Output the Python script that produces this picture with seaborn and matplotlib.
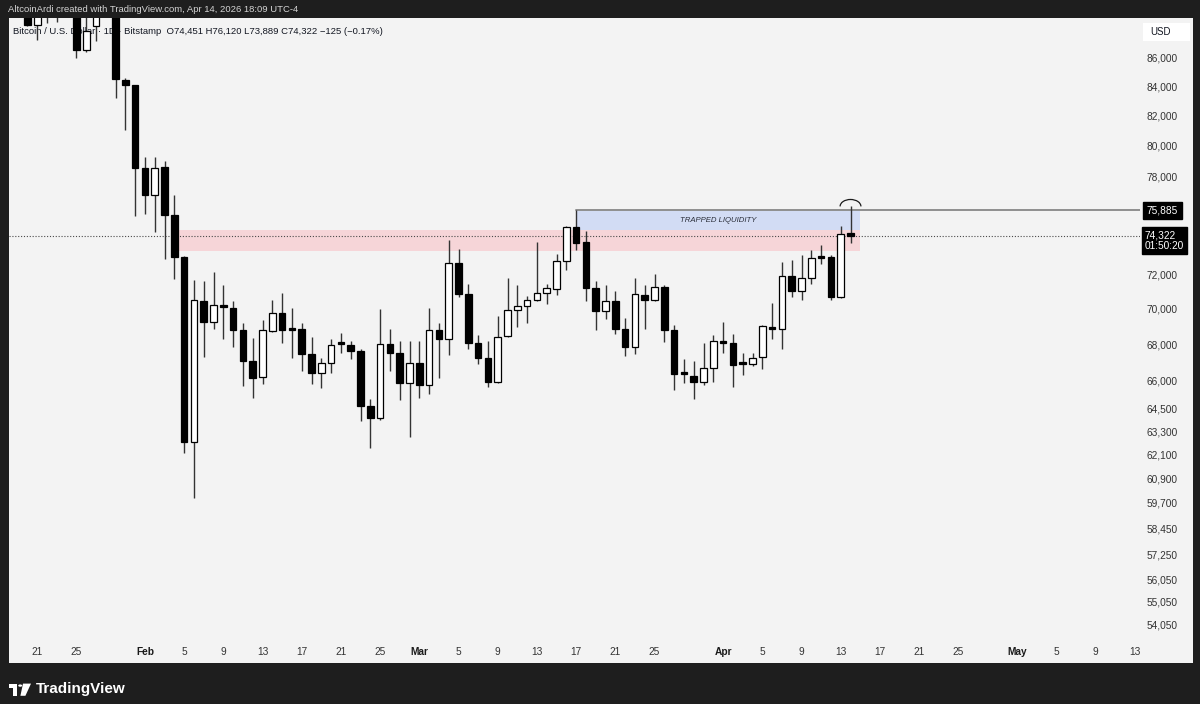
import matplotlib
matplotlib.use("Agg")
import numpy as np
import pandas as pd
import seaborn as sns
import matplotlib.pyplot as plt
import matplotlib.dates as mdates
import matplotlib.transforms as mtransforms
from matplotlib.patches import Rectangle, Arc, Circle, Polygon
from matplotlib.ticker import FixedLocator, NullLocator, FuncFormatter

# ---------------- data (BTC/USD daily, Bitstamp) ----------------
start_date = "2026-01-19"
opens = [91000, 89600, 88320, 89300, 89500, 89200, 89400, 86510, 88250, 89100, 89400, 84420, 84080,
         78575, 76860, 78600, 75595, 73000, 62735, 70460, 69220, 70230, 70040, 68770, 67045, 66185, 68750,
         69760, 68870, 68870, 67470, 66380, 66940, 68020, 67930, 67620, 64620, 64000, 67980, 67480, 65840,
         66960, 65750, 68780, 68300, 72690, 70840, 68080, 67250, 65930, 68440, 69930, 70130, 70500, 70880,
         71160, 72820, 74850, 73920, 71200, 69890, 70460, 68860, 67830, 70800, 70480, 71260, 68770, 66360,
         66250, 65930, 66690,
         68170, 68080, 66890, 66920, 67280, 68970, 68860, 71900, 71050, 71800, 73030, 73030, 70670, 74451]
highs = [92000, 90100, 89800, 89900, 90000, 89700, 89600, 89000, 89300, 90000, 89600, 84570, 84100,
         79285, 79285, 79030, 76860, 73100, 71665, 71610, 72135, 71360, 70420, 69200, 68355, 69350, 70480,
         70900, 70040, 69200, 68410, 67250, 68300, 68630, 68170, 67710, 65000, 69980, 68820, 68170, 68170,
         68170, 70040, 69200, 74060, 73520, 71420, 68480, 68170, 69560, 71770, 71360, 70750, 73950, 71420,
         73190, 74930, 75885, 74625, 71610, 71360, 71050, 69490, 71810, 71360, 72000, 71360, 69090, 67190,
         67060, 68080, 68500,
         69230, 68590, 67480, 67480, 69090, 70330, 72730, 72850, 73130, 73470, 73780, 73130, 74890, 76120]
lows = [89400, 88250, 87220, 88470, 88540, 88950, 86000, 86370, 87150, 88950, 83200, 81050, 75530,
        75655, 74565, 72890, 71710, 62190, 59945, 67300, 68820, 68260, 67855, 65730, 65075, 65820, 68690,
        68040, 67250, 66500, 65820, 65600, 66420, 67520, 67160, 63820, 62470, 63910, 66500, 64960, 63010,
        65075, 65250, 66150, 67370, 70670, 67740, 66920, 65640, 65840, 68410, 68960, 69200, 70420, 70280,
        70800, 72250, 73440, 70460, 68780, 69390, 68540, 67330, 67430, 68860, 70420, 68110, 65470, 65875,
        65000, 65780, 65900,
        67520, 65660, 66280, 66810, 66600, 68300, 67700, 70670, 70480, 71420, 72600, 70500, 70610, 73889]
closes = [89600, 88320, 89300, 89500, 89200, 89400, 86510, 87920, 89100, 89400, 84500, 84080, 78575,
          76860, 78575, 75595, 73000, 62735, 70476, 69220, 70230, 70080, 68770, 67045, 66150, 68780, 69760,
          68770, 68800, 67430, 66380, 66940, 67965, 68000, 67600, 64620, 64000, 67980, 67480, 65840, 66960,
          65750, 68780, 68310, 72690, 70840, 68080, 67250, 65930, 68410, 69940, 70130, 70480, 70900, 71200,
          72820, 74850, 73880, 71200, 69890, 70460, 68860, 67830, 70840, 70480, 71260, 68770, 66330, 66330,
          65930, 66690, 68170,
          68080, 66860, 66880, 67250, 69010, 68860, 71900, 71050, 71800, 72990, 72950, 70670, 74420, 74322]

ytick_values = [86000, 84000, 82000, 80000, 78000, 72000, 70000, 68000, 66000, 64500, 63300,
                62100, 60900, 59700, 58450, 57250, 56050, 55050, 54050]
xtick_dates = ["2026-01-21", "2026-01-25", "2026-02-01", "2026-02-05", "2026-02-09", "2026-02-13",
               "2026-02-17", "2026-02-21", "2026-02-25", "2026-03-01", "2026-03-05", "2026-03-09",
               "2026-03-13", "2026-03-17", "2026-03-21", "2026-03-25", "2026-04-01", "2026-04-05",
               "2026-04-09", "2026-04-13", "2026-04-17", "2026-04-21", "2026-04-25", "2026-05-01",
               "2026-05-05", "2026-05-09", "2026-05-13"]
xtick_labels = ["21", "25", "Feb", "5", "9", "13", "17", "21", "25", "Mar", "5", "9", "13", "17",
                "21", "25", "Apr", "5", "9", "13", "17", "21", "25", "May", "5", "9", "13"]
month_labels = {"Feb", "Mar", "Apr", "May"}

last_price = 74322
trapped_high = 75885
zone_split = 74640
zone_low = 73390
pink_start = "2026-02-04 08:00"
blue_start = "2026-03-17"
zone_end = "2026-04-14 23:00"
y_min, y_max = 52360, 88830
x_start, x_end = "2026-01-18 03:00", "2026-05-13 13:00"

title_text = "AltcoinArdi created with TradingView.com, Apr 14, 2026 18:09 UTC-4"
legend_text = "Bitcoin / U.S. Dollar · 1D · Bitstamp  O74,451 H76,120 L73,889 C74,322 \u2212125 (\u22120.17%)"

# ---------------- style ----------------
sns.set_theme(style="white")
plt.rcParams["font.family"] = ["Liberation Sans", "DejaVu Sans"]

W, H = 1200, 704
fig = plt.figure(figsize=(12, 7.04), dpi=100, facecolor="#1e1e1e")


def fx(px):
    return px / W


def fy(py):
    return 1 - py / H


def dn(s):
    return mdates.date2num(pd.Timestamp(s).to_pydatetime())


panel = Rectangle((fx(9), fy(663)), fx(1193) - fx(9), fy(18) - fy(663),
                  facecolor="#f3f3f3", edgecolor="none", zorder=-5)
fig.add_artist(panel)

ax = fig.add_axes([fx(9), fy(663), fx(1140) - fx(9), fy(18) - fy(663)])
ax.set_facecolor("none")
for s in ax.spines.values():
    s.set_visible(False)

dates = pd.date_range(start_date, periods=len(opens), freq="D")
x = mdates.date2num(dates.to_pydatetime())
o = np.array(opens, float)
h = np.array(highs, float)
l = np.array(lows, float)
c = np.array(closes, float)

# zones
ax.fill_between([dn(pink_start), dn(zone_end)], zone_low, zone_split, color="#f6d5d8", lw=0, zorder=1)
ax.fill_between([dn(blue_start), dn(zone_end)], zone_split, trapped_high, color="#d2dcf4", lw=0, zorder=1)

# level line and last-price line
sns.lineplot(x=[dn(blue_start), dn(x_end)], y=[trapped_high, trapped_high], ax=ax,
             color="#8f8f8f", linewidth=1.4, zorder=2)
ax.hlines(last_price, dn(x_start), dn(x_end), colors="#4a4a4a", linestyles=(0, (1, 1.6)),
          linewidth=0.8, zorder=2)

# candles
up = c >= o
ax.vlines(x, l, h, color="#333333", lw=1.0, zorder=3)
body_lo = np.minimum(o, c)
body_hi = np.maximum(o, c)
height = np.maximum(body_hi - body_lo, body_lo * 0.0016)
ax.bar(x, height, bottom=body_lo, width=0.68, color=np.where(up, "white", "black"),
       edgecolor="black", linewidth=0.9, zorder=4)

# label in trapped zone
ax.text((dn(blue_start) + dn(zone_end)) / 2, np.sqrt(zone_split * trapped_high), "TRAPPED LIQUIDITY",
        ha="center", va="center", fontsize=5.6, style="italic", color="#2a2e39", zorder=5)

# arc above last candle
arc_tr = mtransforms.Affine2D().scale(fig.dpi / 72) + mtransforms.ScaledTranslation(x[-1], h[-1], ax.transData)
arc = Arc((0, 0), 15, 10, theta1=0, theta2=180, transform=arc_tr, color="#1b1b1b", lw=0.9, zorder=5)
ax.add_artist(arc)

# axes scales
ax.set_yscale("log")
ax.set_ylim(y_min, y_max)
ax.set_xlim(dn(x_start), dn(x_end))
ax.set_xlabel("")
ax.set_ylabel("")

ax.yaxis.tick_right()
ax.yaxis.set_major_locator(FixedLocator(ytick_values))
ax.yaxis.set_minor_locator(NullLocator())
ax.yaxis.set_major_formatter(FuncFormatter(lambda v, p: f"{v:,.0f}"))
ax.tick_params(axis="y", length=0, pad=5, labelsize=7.3, labelcolor="#333333")

ax.xaxis.set_major_locator(FixedLocator([dn(d) for d in xtick_dates]))
ax.xaxis.set_minor_locator(NullLocator())
ax.set_xticklabels(xtick_labels)
ax.tick_params(axis="x", length=0, pad=-11.5, labelsize=7.3, labelcolor="#333333")
for lbl in ax.get_xticklabels():
    if lbl.get_text() in month_labels:
        lbl.set_fontweight("bold")
        lbl.set_color("#1a1a1a")

# right-side price labels
ax.annotate(f"{trapped_high:,}", xy=(1, trapped_high), xycoords=("axes fraction", "data"),
            xytext=(5, 0), textcoords="offset points", ha="left", va="center", fontsize=7.3,
            color="white", bbox=dict(boxstyle="square,pad=0.35", fc="black", ec="black"),
            annotation_clip=False, zorder=6)
ax.annotate(f"{last_price:,}\n01:50:20", xy=(1, last_price), xycoords=("axes fraction", "data"),
            xytext=(3.5, -3.6), textcoords="offset points", ha="left", va="center", fontsize=7.3,
            color="white", linespacing=1.05,
            bbox=dict(boxstyle="square,pad=0.3", fc="black", ec="black"),
            annotation_clip=False, zorder=6)

# header texts
fig.text(fx(8), fy(10), title_text, color="#d4d4d4", fontsize=6.8, va="center", ha="left")
ax.text(fx(13), fy(31.5), legend_text, transform=fig.transFigure, color="#131722", fontsize=6.8,
        va="center", ha="left", zorder=2)

# USD box
fig.add_artist(Rectangle((fx(1143), fy(40.5)), fx(1190) - fx(1143), fy(23) - fy(40.5),
                         facecolor="white", edgecolor="none", zorder=3))
fig.text(fx(1150), fy(32), "USD", color="#131722", fontsize=7, va="center", ha="left", zorder=4)

# TradingView footer logo
fig.add_artist(Rectangle((fx(8.5), fy(687.5)), fx(17.2) - fx(8.5), fy(683.6) - fy(687.5),
                         facecolor="white", edgecolor="none"))
fig.add_artist(Rectangle((fx(13.4), fy(695.8)), fx(17.2) - fx(13.4), fy(683.6) - fy(695.8),
                         facecolor="white", edgecolor="none"))
fig.add_artist(Circle((fx(20.2), fy(685.6)), radius=fx(2.0), facecolor="white", edgecolor="none"))
fig.add_artist(Polygon([(fx(23.0), fy(683.6)), (fx(31.0), fy(683.6)), (fx(25.4), fy(695.8)),
                        (fx(20.4), fy(695.8))], closed=True, facecolor="white", edgecolor="none"))
fig.text(fx(36), fy(689.5), "TradingView", color="white", fontsize=11, fontweight="semibold",
         va="center", ha="left")

fig.savefig("out.png", dpi=100, facecolor=fig.get_facecolor())
